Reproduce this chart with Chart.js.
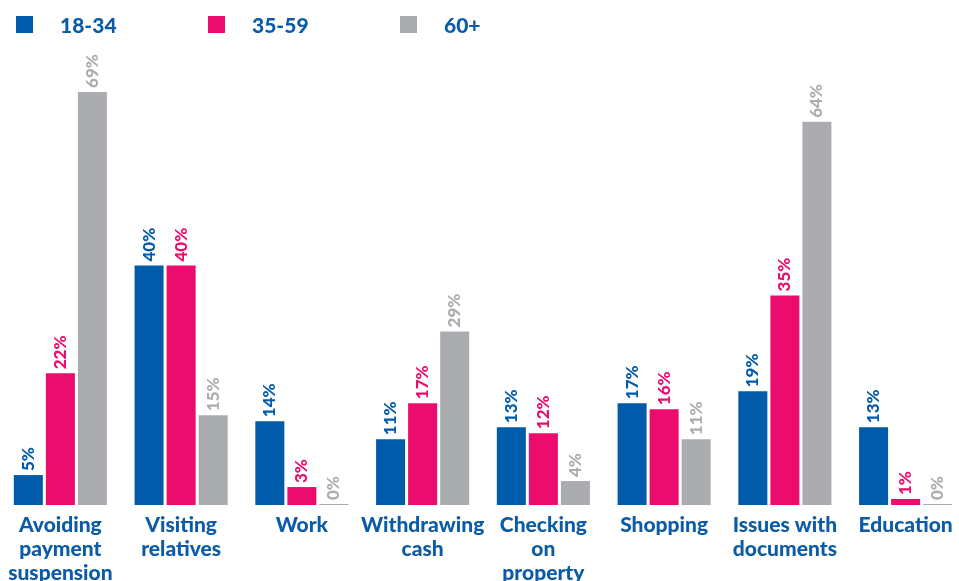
<!DOCTYPE html>
<html><head><meta charset="utf-8">
<script src="https://cdn.jsdelivr.net/npm/chart.js@4/dist/chart.umd.min.js"></script>
<style>
html,body{margin:0;padding:0;background:#fff;overflow:hidden;width:959px;height:581px;}
#wrap{position:relative;width:966px;height:581px;}
canvas{position:absolute;left:0;top:0;}
#legend{position:absolute;left:0;top:0;width:959px;height:50px;font-family:Lato,sans-serif;font-weight:900;font-size:21px;color:#0B5CA8;}
.li{position:absolute;top:13px;height:24px;line-height:24px;}
.sw{position:absolute;top:3px;width:17px;height:17px;}
.lt{position:absolute;left:44px;white-space:nowrap;}
</style></head>
<body><div id="wrap"><canvas id="c" width="966" height="581"></canvas><div id="legend"></div></div>
<script>
const categories = [["Avoiding","payment","suspension"],["Visiting","relatives"],["Work"],["Withdrawing","cash"],["Checking","on","property"],["Shopping"],["Issues with","documents"],["Education"]];
const seriesNames = ["18-34","35-59","60+"];
const seriesColors = ["#005BAA","#EC0C6E","#ABACB0"];
const values1834 = [5,40,14,11,13,17,19,13];
const values3559 = [22,40,3,17,12,16,35,1];
const values60 = [69,15,0,29,4,11,64,0];
const allValues = [values1834, values3559, values60];

// HTML legend
const lg = document.getElementById('legend');
seriesNames.forEach((n,i)=>{
  const d=document.createElement('div'); d.className='li'; d.style.left=(16+i*192)+'px';
  const s=document.createElement('div'); s.className='sw'; s.style.background=seriesColors[i];
  const t=document.createElement('div'); t.className='lt'; t.textContent=n;
  d.appendChild(s); d.appendChild(t); lg.appendChild(d);
});

const labelPlugin = {
  id:'vlabels',
  afterDatasetsDraw(chart){
    const ctx=chart.ctx;
    chart.data.datasets.forEach((ds,di)=>{
      const meta=chart.getDatasetMeta(di);
      meta.data.forEach((bar,i)=>{
        const v=ds.data[i];
        ctx.save();
        ctx.translate(bar.x, bar.y-4);
        ctx.rotate(-Math.PI/2);
        ctx.font='900 17px Lato, sans-serif';
        ctx.fillStyle=seriesColors[di];
        ctx.textAlign='left';
        ctx.textBaseline='middle';
        ctx.fillText(v+'%',0,0);
        ctx.restore();
      });
    });
  }
};

new Chart(document.getElementById('c'),{
  type:'bar',
  data:{labels:categories,datasets:allValues.map((d,i)=>({label:seriesNames[i],data:d,backgroundColor:seriesColors[i],categoryPercentage:0.796,barPercentage:0.906,minBarLength:1}))},
  options:{
    responsive:false,animation:false,
    layout:{padding:{top:56,left:0,right:0,bottom:0}},
    plugins:{legend:{display:false},tooltip:{enabled:false}},
    scales:{
      y:{display:false,min:0,max:75},
      x:{grid:{display:false},border:{display:false},
         ticks:{color:'#0B5CA8',font:{family:'Lato',weight:'900',size:21,lineHeight:1.15},padding:0,maxRotation:0,autoSkip:false},
         afterFit(s){s.height=76;}}
    }
  },
  plugins:[labelPlugin]
});
</script></body></html>
